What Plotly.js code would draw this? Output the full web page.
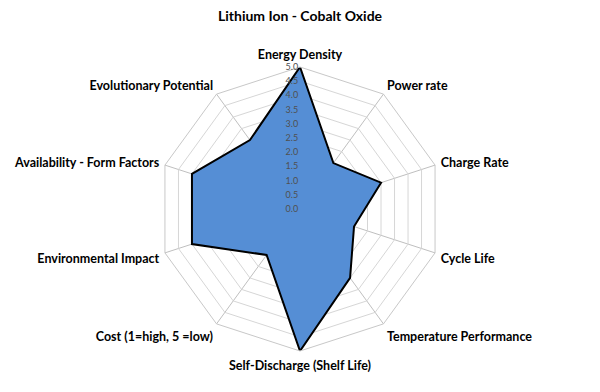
<!DOCTYPE html>
<html><head><meta charset="utf-8">
<script src="https://cdn.plot.ly/plotly-3.0.1.min.js"></script>
<style>html,body{margin:0;padding:0;background:#fff}</style>
</head><body><div id="chart" style="width:600px;height:392px"></div>
<script>
const categories = ["Energy Density","Power rate","Charge Rate","Cycle Life","Temperature Performance","Self-Discharge (Shelf Life)","Cost (1=high, 5 =low)","Environmental Impact","Availability - Form Factors","Evolutionary Potential"];
const values = [5,2,3,2,3,5,2,4,4,3];
const radialTicks = [0,0.5,1,1.5,2,2.5,3,3.5,4,4.5,5];
const radialTickText = radialTicks.map(v => v.toFixed(1));

const trace = {
  type: 'scatterpolar',
  r: values.concat([values[0]]),
  theta: categories.concat([categories[0]]),
  mode: 'lines',
  fill: 'toself',
  fillcolor: '#558ED5',
  line: {color: '#000000', width: 2},
  hoverinfo: 'skip'
};
const layout = {
  width: 600, height: 392,
  margin: {l: 100, r: 100, t: 67, b: 41},
  paper_bgcolor: '#fff',
  showlegend: false,
  title: {text: 'Lithium Ion - Cobalt Oxide', x: 0.5, xanchor: 'center', y: 0.958, yanchor: 'middle',
          font: {family: 'Lato, "Open Sans", sans-serif', size: 14, color: '#000', weight: 'bold'}},
  font: {family: 'Lato, "Open Sans", sans-serif'},
  polar: {
    gridshape: 'linear',
    bgcolor: '#fff',
    domain: {x: [0, 1], y: [0, 1]},
    angularaxis: {
      direction: 'clockwise', rotation: 90,
      linecolor: '#c8c8c8', linewidth: 1,
      gridcolor: '#bfbfbf', gridwidth: 1,
      tickfont: {size: 12.5, color: '#000', weight: 'bold'},
      ticks: 'outside', ticklen: 3, tickcolor: 'rgba(0,0,0,0)', showline: true
    },
    radialaxis: {
      range: [0, 5], angle: 90, tickangle: 90,
      tickvals: radialTicks, ticktext: radialTickText,
      tickfont: {size: 9, color: '#505050'},
      gridcolor: '#d6d6d6', gridwidth: 1,
      showline: false, ticks: '', side: 'counterclockwise'
    }
  }
};
Plotly.newPlot('chart', [trace], layout, {displayModeBar: false, staticPlot: true});
</script></body></html>
